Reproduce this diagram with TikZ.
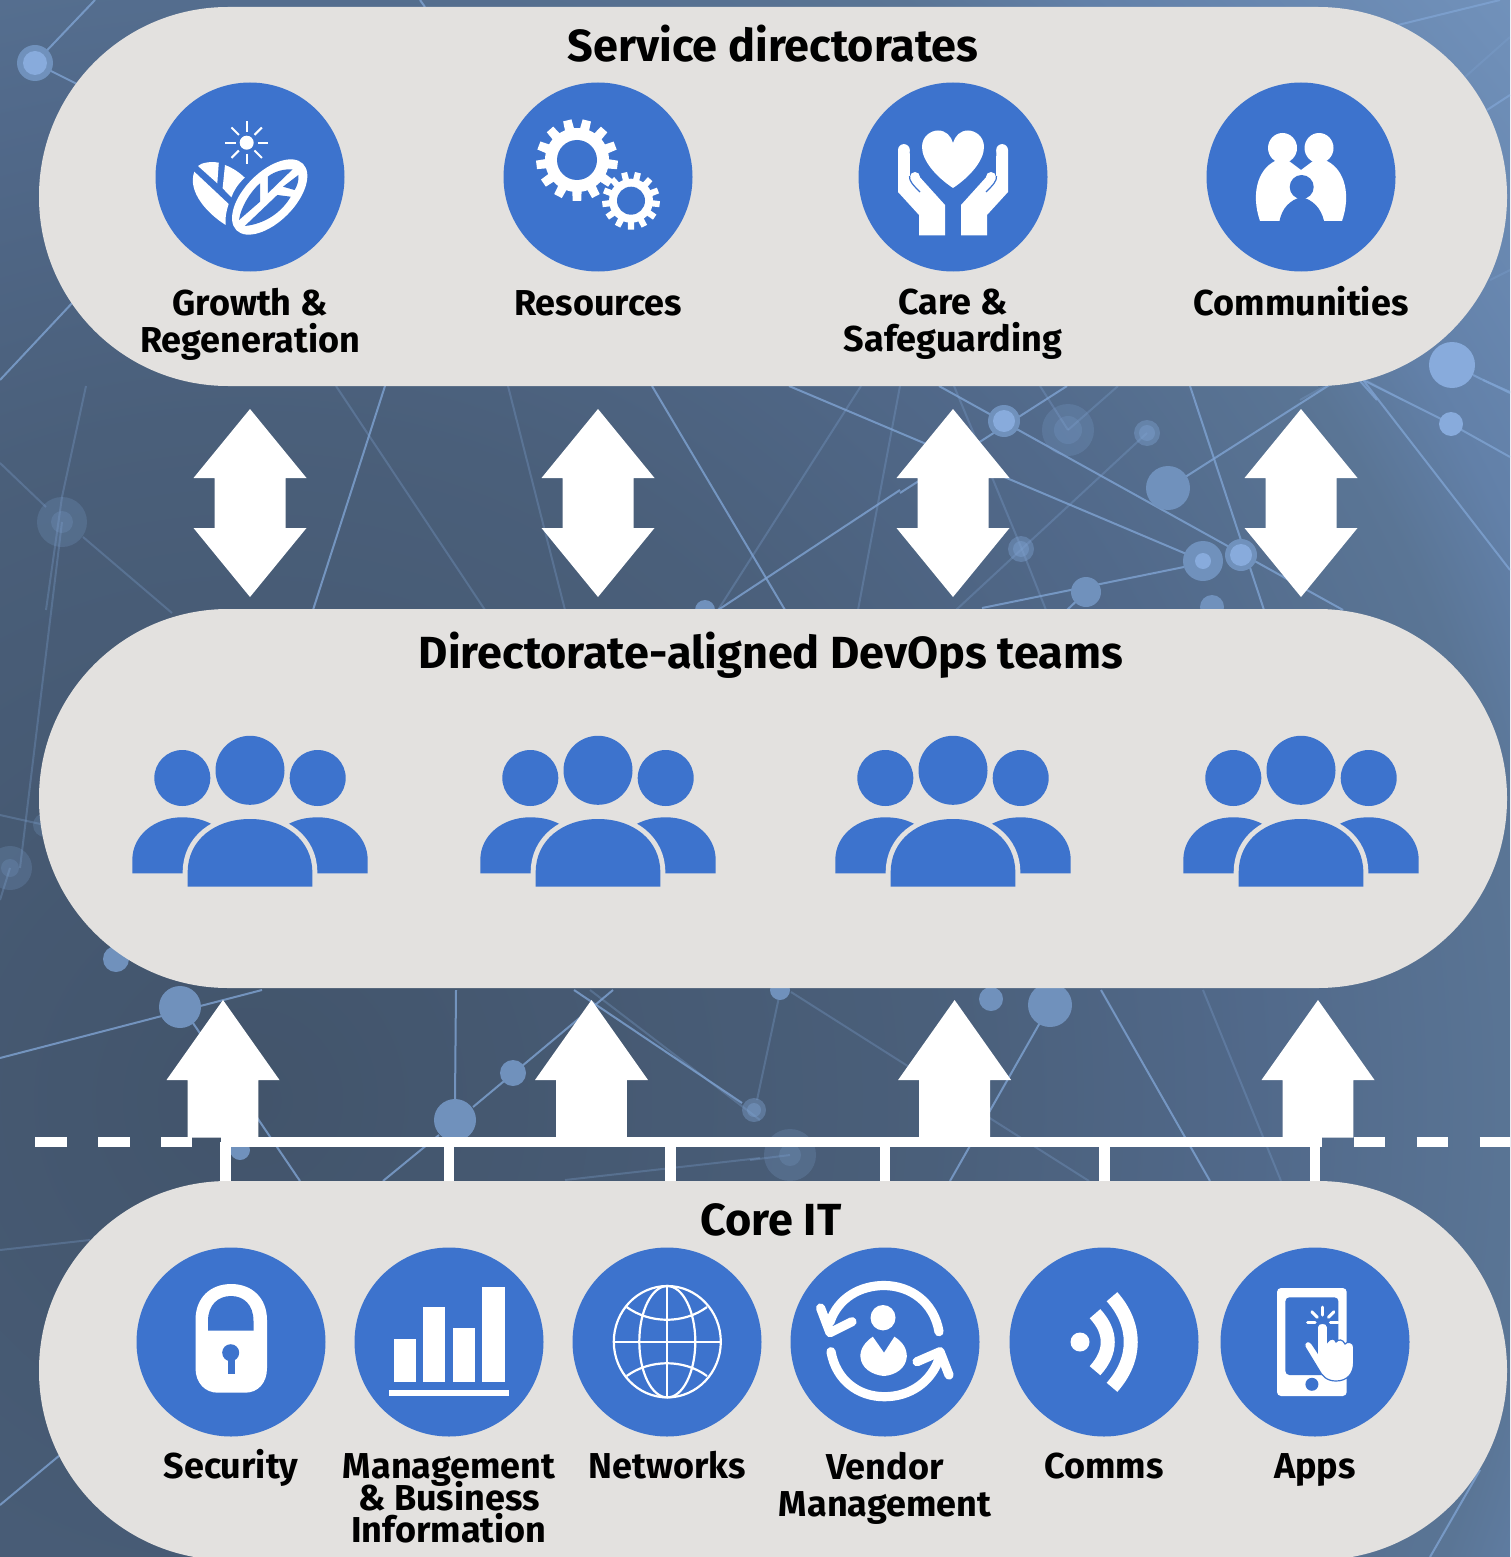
\documentclass[tikz,border=0pt]{standalone}
\usepackage{fontspec}
\setmainfont{Fira Sans}
\usetikzlibrary{calc}
\lineskiplimit=-20pt
\normallineskiplimit=-20pt
\definecolor{discblue}{HTML}{3D73CD}
\definecolor{panelgray}{HTML}{E3E1DF}
\definecolor{netblue}{HTML}{7FA3D2}
\definecolor{dotblue}{HTML}{7091BC}
\definecolor{dotcore}{HTML}{88ABDC}
\definecolor{bga}{HTML}{42546B}
\definecolor{bgb}{HTML}{4A5F7A}
\definecolor{bgc}{HTML}{51698A}
\definecolor{bgd}{HTML}{5A7595}
\definecolor{bge}{HTML}{6280A8}
\definecolor{bgf}{HTML}{6F8FB8}
\definecolor{bgg}{HTML}{7B9DC8}
\pgfdeclareradialshading{bgglow}{\pgfpointorigin}{color(0bp)=(bga); color(10bp)=(bgb); color(14.8bp)=(bgc); color(18.8bp)=(bgd); color(20.3bp)=(bge); color(24bp)=(bgf); color(27.8bp)=(bgg); color(50bp)=(bgg)}
\tikzset{
  panel/.style={fill=panelgray,rectangle,rounded corners=94.5pt,minimum width=734pt,minimum height=189.5pt,inner sep=0pt},
  bluedisc/.style={fill=discblue,circle,minimum size=94.5pt,inner sep=0pt},
  titletext/.style={font=\bfseries\fontsize{22.5}{26}\selectfont,inner sep=0pt},
  labeltext/.style={font=\bfseries\fontsize{18}{18.5}\selectfont,align=center,inner sep=0pt,anchor=north},
  singletext/.style={font=\bfseries\fontsize{18}{18.5}\selectfont,inner sep=0pt,anchor=base},
  blockarrow/.style={fill=white},
  busline/.style={draw=white,line width=5.25pt},
  busdash/.style={draw=white,line width=5.25pt,dash pattern=on 15.75pt off 15.75pt},
  stemline/.style={draw=white,line width=5.2pt},
  netline/.style={draw=netblue,line width=1pt,opacity=0.8},
  netfaint/.style={draw=netblue,line width=1pt,opacity=0.3},
  netdot/.style={fill=dotblue},
  netcore/.style={fill=dotcore},
  netmid/.style={fill=netblue,opacity=0.4},
  netdim/.style={fill=netblue,opacity=0.22}
}
\newcommand{\lblstrut}{\vrule height 13pt width 0pt\relax}
\newcommand{\gearwheel}[6]{
  \foreach \t in {1,...,#6}{
    \pgfmathsetmacro{\ga}{\t*360/#6+7}
    \fill[white] ($(#1,#2)+(\ga-9:#4-2)$) -- ($(#1,#2)+(\ga-6:#3)$) -- ($(#1,#2)+(\ga+6:#3)$) -- ($(#1,#2)+(\ga+9:#4-2)$) -- cycle;
  }
  \fill[white] (#1,#2) circle (#4);
  \fill[discblue] (#1,#2) circle (#5);
}
\begin{document}
\begin{tikzpicture}[x=0.5pt,y=-0.5pt]
\useasboundingbox (0,0) rectangle (1510,1557);
\clip (0,0) rectangle (1510,1557);

\shade[shading=bgglow] (250,1100) circle (1700);

% network behind the panels
\foreach \xa/\ya/\xb/\yb in {95/0/35/63, 35/63/85/88, 0/380/75/300, 385/386/313/610, 652/386/785/610, 789/386/1203/561, 900/490/718/610, 939/386/1343/610, 1067/386/900/493, 1190/386/1264/610, 982/608/1184/567, 1345/375/1168/488, 1363/380/1510/570, 1363/380/1451/424, 1451/424/1510/457, 1483/380/1510/392, 1398/25/1500/0, 1487/110/1510/95, 1473/375/1510/393, 1360/381/1377/400, 1086/592/1067/610, 0/1058/262/990, 193/1023/300/1181, 456/990/455/1100, 473/1107/613/990, 439/1135/383/1181, 574/990/742/1103, 1050/1005/950/1181, 1101/990/1210/1181, 0/1505/60/1455, 1480/1470/1430/1557, 420/0/425/7}
  \draw[netline] (\xa,\ya) -- (\xb,\yb);
\foreach \xa/\ya/\xb/\yb in {86/386/62/497, 62/497/46/610, 0/463/46/507, 83/537/172/613, 62/522/20/868, 336/386/485/610, 508/386/565/610, 861/386/718/610, 900/386/858/610, 954/386/1021/547, 1021/547/1046/610, 1147/433/956/610, 1040/386/1068/430, 1118/386/1068/430, 1465/77/1510/37, 1490/280/1510/270, 1300/400/1327/385, 1367/381/1403/400, 590/990/760/1120, 565/1180/760/1158, 779/997/757/1100, 791/992/1089/1181, 1203/990/1281/1181, 750/1160/790/1155, 0/1250/90/1240, 0/815/45/825, 0/900/10/868}
  \draw[netfaint] (\xa,\ya) -- (\xb,\yb);
\foreach \dx/\dy/\dr in {35/63/18, 1004/421/16, 1168/488/22, 1203/561/20, 1241/555/16, 1086/592/15, 1212/607/12, 116/959/13, 180/1007/21, 513/1073/13, 455/1120/21, 780/990/10, 991/999/12, 1050/1005/22, 240/1150/10, 705/610/10}
  \fill[netdot] (\dx,\dy) circle (\dr);
\foreach \dx/\dy/\dr in {35/63/12, 1004/421/11, 1203/561/8, 1241/555/11, 1452/365/23, 1451/424/12}
  \fill[netcore] (\dx,\dy) circle (\dr);
\foreach \dx/\dy/\dr in {1147/433/13, 1147/433/8, 1021/549/13, 1021/549/8, 754/1110/12, 754/1110/7}
  \fill[netmid] (\dx,\dy) circle (\dr);
\foreach \dx/\dy/\dr in {1068/430/26, 1068/430/14, 62/522/25, 62/522/11, 10/868/22, 10/868/9, 790/1155/26, 790/1155/11, 45/825/12}
  \fill[netdim] (\dx,\dy) circle (\dr);

% double arrows between the top panels
\foreach \ax in {250,598,953,1301}
  \fill[blockarrow] (\ax,409) -- (\ax+56.5,478) -- (\ax+35.5,478) -- (\ax+35.5,528) -- (\ax+56.5,528) -- (\ax,597) -- (\ax-56.5,528) -- (\ax-35.5,528) -- (\ax-35.5,478) -- (\ax-56.5,478) -- cycle;

% up arrows on the bus
\foreach \ax in {223,591.5,954.6,1318}
  \fill[blockarrow] (\ax,1000) -- (\ax+56.5,1080) -- (\ax+35.4,1080) -- (\ax+35.4,1137.5) -- (\ax-35.4,1137.5) -- (\ax-35.4,1080) -- (\ax-56.5,1080) -- cycle;

% panels
\node[panel] (services) at (773,196.5) {};
\node[panel] (devops) at (773,798.5) {};
\node[panel] (core) at (773,1370.5) {};

% bus and stems
\coordinate (busleft) at (220.5,1142);
\coordinate (busright) at (1322,1142);
\draw[busline] (busleft) -- (busright);
\coordinate (dashstartl) at (35.4,1142);
\coordinate (dashendl) at (192.4,1142);
\coordinate (dashstartr) at (1353.5,1142);
\coordinate (dashendr) at (1510,1142);
\draw[busdash] (dashstartl) -- (dashendl);
\draw[busdash] (dashstartr) -- (dashendr);
\foreach \sname/\sx in {1/225.6,2/448.8,3/670.6,4/884.7,5/1104.4,6/1315.2}{
  \coordinate (stem\sname) at (\sx,1142);
  \draw[stemline] (stem\sname) -- (stem\sname |- core.north);
}

% titles
\node[titletext,anchor=base] (servicestitle) at (773,62) {Service directorates};
\node[titletext,anchor=base] (devopstitle) at (771,668) {Directorate-aligned DevOps teams};
\node[titletext,anchor=base] (coretitle) at (771,1235) {Core IT};

% discs of the directorates
\node[bluedisc] (growth) at (250,177) {};
\node[bluedisc] (resources) at (598,177) {};
\node[bluedisc] (care) at (953,177) {};
\node[bluedisc] (communities) at (1301,177) {};

\node[labeltext] (growthlabel) at (250,288) {\lblstrut Growth \&\\Regeneration};
\node[singletext] (resourceslabel) at (598,315) {Resources};
\node[labeltext] (carelabel) at (953,288) {\lblstrut Care \&\\Safeguarding};
\node[singletext] (communitieslabel) at (1301,315) {Communities};

% sun and leaves
\fill[white] (246.7,142.7) circle (7);
\foreach \ra in {0,45,...,315}
  \draw[white,line width=1pt] (246.7,142.7)++(\ra:11) -- ++(\ra:10.5);
\fill[white] (198,166) .. controls (201,163) and (210,161) .. (218.8,162.7) -- (217.3,183.3) -- cycle;
\fill[white] (225,165) .. controls (233,168) and (240,173) .. (244.8,177.7) .. controls (238,184) and (234,190) .. (231.4,197.3) -- (222.6,188.3) -- cycle;
\fill[white] (194.3,171.7) -- (228.7,204) .. controls (226,212) and (225,218) .. (225.7,225) .. controls (208,214) and (187,192) .. (194.3,171.7) -- cycle;
\fill[white] (269.7,197) ellipse [x radius=47,y radius=25,rotate=45];
\fill[discblue] (239,220) -- (260,201.7) -- (260,183.3) .. controls (250,192) and (241,207) .. (239,220) -- cycle;
\fill[discblue] (267.8,176.7) .. controls (275,171) and (284,169) .. (292.6,169.3) -- (267.8,193.3) -- cycle;
\fill[discblue] (283,186.7) -- (298.4,175) .. controls (299,181) and (297,186) .. (294.6,190) -- cycle;
\fill[discblue] (244.8,226) -- (277.3,195) -- (290.7,196.7) .. controls (282,212) and (265,224) .. (244.8,226) -- cycle;

% gears
\gearwheel{577}{160}{41}{32}{20}{13}
\gearwheel{631}{200.7}{29}{22}{14}{13}

% heart and hands
\fill[white] (953,188) .. controls (935,176) and (922,160) .. (922,147) .. controls (922,136) and (931,130.5) .. (938,130.5) .. controls (946,130.5) and (951,136) .. (953,143) .. controls (955,136) and (960,130.5) .. (968,130.5) .. controls (975,130.5) and (984,136) .. (984,147) .. controls (984,160) and (971,176) .. (953,188) -- cycle;
\foreach \sd in {-1,1}{
  \begin{scope}[shift={(953,0)},xscale=\sd]
    \fill[white] (-55,192) -- (-34,215) -- (-34,235.3) -- (-8,235.3) -- (-8,205) -- (-36,174) -- (-43,178) -- (-43.3,150) -- (-55,150) -- cycle;
    \fill[white] (-49.1,150) circle (5.9);
    \fill[white] (-38,177) circle (5);
    \draw[discblue,line width=0.6pt] (-43.5,176) .. controls (-44,181) and (-40,185) .. (-33,192);
  \end{scope}
}

% family
\fill[white] (1282.5,148) ellipse (14.5 and 15);
\fill[white] (1319,148) ellipse (14.5 and 15);
\fill[white] (1260,221) .. controls (1251,195) and (1257,170) .. (1275,161) -- (1289,161) -- (1301,170) -- (1313,161) -- (1327,161) .. controls (1345,170) and (1351,195) .. (1342,221) -- cycle;
\fill[discblue] (1301.7,187) circle (12);
\fill[discblue] (1279.5,221) .. controls (1282,208) and (1290,200) .. (1301.5,197) .. controls (1313,200) and (1321,208) .. (1324,221) -- cycle;

% teams
\foreach \tx in {250,598,953,1301}{
  \begin{scope}[shift={(\tx,0)}]
    \foreach \hx/\hy/\hr in {-67.7/778/28,67.7/778/28,0/770.3/34.5}
      \fill[discblue] (\hx,\hy) circle (\hr);
    \foreach \sd in {-1,1}
      \fill[discblue] (\sd*117.7,873.3) -- (\sd*117.7,860) .. controls (\sd*117.7,835) and (\sd*95,817.3) .. (\sd*68,817.3) .. controls (\sd*55,817.3) and (\sd*45,820) .. (\sd*35,826) -- (\sd*35,873.3) -- cycle;
    \draw[panelgray,line width=5pt] (-62.3,890) -- (-62.3,872) .. controls (-62.3,840) and (-35,819) .. (0,819) .. controls (35,819) and (62.3,840) .. (62.3,872) -- (62.3,890);
    \fill[discblue] (-62.3,886.7) -- (-62.3,872) .. controls (-62.3,840) and (-35,819) .. (0,819) .. controls (35,819) and (62.3,840) .. (62.3,872) -- (62.3,886.7) -- cycle;
  \end{scope}
}

% discs of core IT
\node[bluedisc] (security) at (231,1342) {};
\node[bluedisc] (mbi) at (449,1342) {};
\node[bluedisc] (networks) at (667,1342) {};
\node[bluedisc] (vendor) at (885,1342) {};
\node[bluedisc] (comms) at (1104,1342) {};
\node[bluedisc] (apps) at (1315,1342) {};

\node[singletext] (securitylabel) at (231,1478) {Security};
\node[labeltext,font=\bfseries\fontsize{18}{16}\selectfont] (mbilabel) at (449,1452) {\lblstrut Management\\\& Business\\Information};
\node[singletext] (networkslabel) at (667,1478) {Networks};
\node[labeltext] (vendorlabel) at (885,1452) {\lblstrut Vendor\\Management};
\node[singletext] (commslabel) at (1104,1478) {Comms};
\node[singletext] (appslabel) at (1315,1478) {Apps};

% padlock
\fill[white] (195.5,1320) .. controls (195.5,1298) and (210,1284) .. (231.3,1284) .. controls (252,1284) and (267,1298) .. (267,1320) -- (267,1368) .. controls (267,1383) and (258,1392.7) .. (245,1392.7) -- (218,1392.7) .. controls (205,1392.7) and (195.5,1383) .. (195.5,1368) -- cycle;
\fill[discblue] (208,1330.7) -- (208,1321) .. controls (208,1305) and (218,1296) .. (231,1296) .. controls (244,1296) and (253.5,1305) .. (253.5,1321) -- (253.5,1330.7) -- cycle;
\fill[discblue] (230.7,1352.7) circle (8.5);
\fill[discblue] (228,1355) rectangle (234.5,1374);

% bars
\foreach \bl/\br/\bt in {393.6/415.6/1339,422.6/445.4/1307,452.5/474.5/1328,481.5/504.7/1287}
  \fill[white] (\bl,\bt) rectangle (\br,1381.7);
\fill[white] (388.7,1390) rectangle (508.5,1395.7);

% globe
\begin{scope}[white,line width=1.1pt]
  \draw (667.3,1341.7) ellipse (53.5 and 55.7);
  \draw (667.3,1341.7) ellipse (28 and 55.7);
  \draw (667.3,1286) -- (667.3,1397.4);
  \draw (613.8,1341.7) -- (720.8,1341.7);
  \draw (626.6,1307) .. controls (650,1324) and (684,1324) .. (707,1307);
  \draw (626.6,1376) .. controls (650,1359) and (684,1359) .. (707,1376);
\end{scope}

% vendor
\fill[white] (883,1317.7) ellipse (12.5 and 12.7);
\fill[white] (872.8,1336.7) -- (884,1352.7) -- (894.4,1336.7) .. controls (903,1342) and (907,1349) .. (906.8,1356.7) .. controls (906,1368) and (896,1375) .. (884,1376) .. controls (872,1375) and (861,1368) .. (860.4,1356.7) .. controls (860,1349) and (865,1342) .. cycle;
\begin{scope}[white,line width=4.6pt,line cap=round,line join=round]
  \draw (939,1331.7) .. controls (934,1302) and (910,1285.5) .. (884,1285.5) .. controls (860,1285.5) and (838,1298) .. (830,1322);
  \draw (820.6,1308) -- (830,1332.7) -- (852,1321.7);
  \draw (831,1351.7) .. controls (836,1380) and (858,1396.7) .. (884.4,1396.7) .. controls (910,1396.7) and (932,1382) .. (940,1356);
  \draw (917,1361.7) -- (940,1351.7) -- (949,1375);
\end{scope}

% signal
\fill[white] (1080,1342) circle (9.5);
\draw[white,line width=7pt] (1095,1313.7) .. controls (1112,1332) and (1112,1352) .. (1095,1370.7);
\draw[white,line width=7pt] (1112,1296.7) .. controls (1137,1325) and (1137,1359) .. (1112,1387.3);

% phone
\fill[white,rounded corners=2pt] (1277,1288) rectangle (1346.7,1396);
\fill[discblue,rounded corners=2pt] (1285.4,1297.3) rectangle (1338.4,1375);
\fill[discblue] (1311.9,1384.3) circle (6.5);
\foreach \xa/\ya/\xb/\yb in {1322.7/1307/1322.7/1315,1311.8/1311.7/1317.3/1317.3,1333.9/1311.7/1328.4/1317.3,1307.7/1322.7/1315/1322.7,1330.4/1322.7/1338/1322.7}
  \draw[white,line width=1.5pt,line cap=round] (\xa,\ya) -- (\xb,\yb);
\filldraw[fill=white,draw=discblue,line width=0.6pt] (1317.3,1327) .. controls (1317.3,1322) and (1327.6,1322) .. (1327.6,1327) -- (1327.6,1342) .. controls (1330,1338) and (1335,1338) .. (1336,1342) .. controls (1338,1339) and (1343,1339) .. (1345,1344) .. controls (1347,1341) and (1353.7,1342) .. (1353.7,1347) -- (1353.7,1362) .. controls (1353.7,1374) and (1347,1381) .. (1336,1381) .. controls (1327,1381) and (1322,1376) .. (1319,1370) -- (1305,1347) .. controls (1303,1342) and (1309,1339) .. (1312,1344) -- (1317.3,1352) -- cycle;
\end{tikzpicture}
\end{document}
